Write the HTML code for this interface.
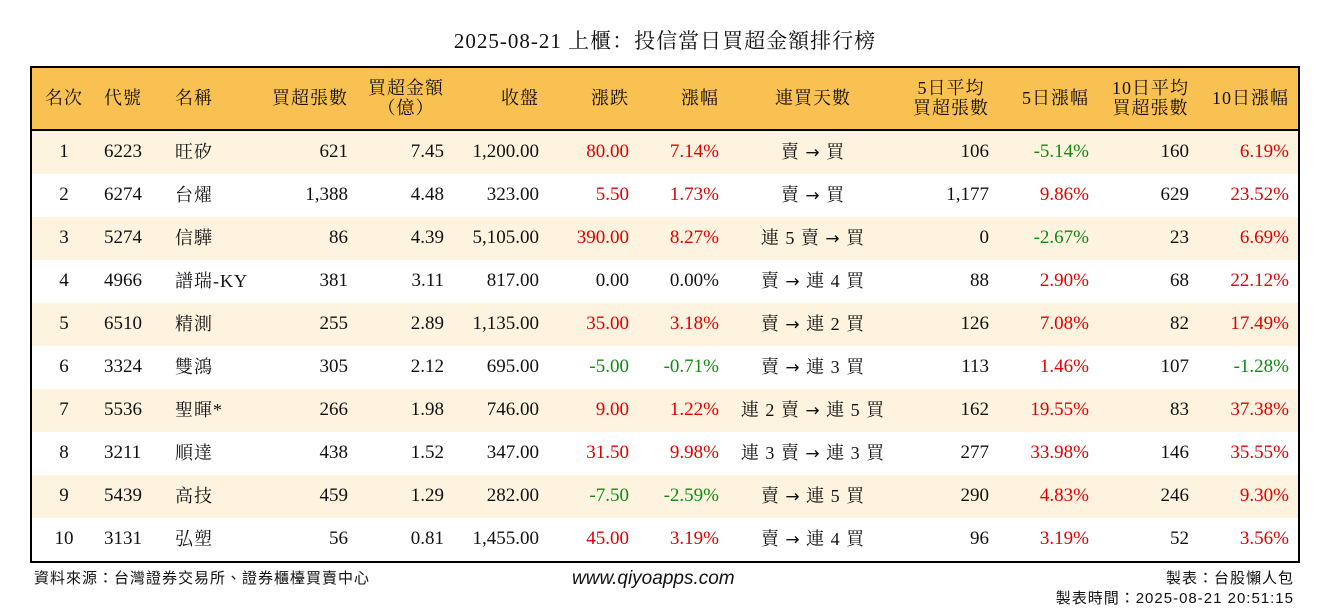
<!DOCTYPE html>
<html><head><meta charset="utf-8">
<style>
body{margin:0;width:1330px;height:612px;background:#fff;position:relative;overflow:hidden;font-family:"Liberation Serif","Noto Serif CJK SC","Noto Sans CJK TC",serif;color:#111}
#title{position:absolute;left:0;width:1330px;top:27px;text-align:center;font-size:21px;line-height:28px;letter-spacing:1px}
#tbl{position:absolute;left:30px;top:66px;width:1266px;height:493px;border:2px solid #000}
#hdr{position:absolute;left:0;top:0;width:1266px;height:61px;background:#f9c152;border-bottom:2px solid #000}
.c{position:absolute;white-space:nowrap;font-size:19px;line-height:24px}
.h{font-size:18px;line-height:20px;letter-spacing:1px}
.row{position:absolute;left:0;width:1266px;height:43px}
.r{color:#e00000}.g{color:#108a10}
.foot{position:absolute;font-size:15px;font-family:"Liberation Sans","Noto Sans CJK TC",sans-serif;letter-spacing:1px}
.arr{font-family:"DejaVu Sans",sans-serif;font-size:17px}
</style></head><body>
<div id="title">2025-08-21 上櫃：投信當日買超金額排行榜</div>
<div id="tbl"><div id="hdr"></div></div>
<div class="foot" style="left:34px;top:567px">資料來源：台灣證券交易所、證券櫃檯買賣中心</div>
<div class="foot" style="left:572px;top:568px;font-style:italic;font-size:19px;letter-spacing:0">www.qiyoapps.com</div>
<div class="foot" style="right:36px;top:567px">製表：台股懶人包</div>
<div class="foot" style="right:36px;top:587px">製表時間：2025-08-21 20:51:15</div>
<script>
const ranks=[1,2,3,4,5,6,7,8,9,10];
const codes=["6223","6274","5274","4966","6510","3324","5536","3211","5439","3131"];
const names=["旺矽","台燿","信驊","譜瑞-KY","精測","雙鴻","聖暉*","順達","高技","弘塑"];
const buyLots=[621,1388,86,381,255,305,266,438,459,56];
const buyAmt=[7.45,4.48,4.39,3.11,2.89,2.12,1.98,1.52,1.29,0.81];
const closes=[1200,323,5105,817,1135,695,746,347,282,1455];
const changes=[80,5.5,390,0,35,-5,9,31.5,-7.5,45];
const pcts=[7.14,1.73,8.27,0,3.18,-0.71,1.22,9.98,-2.59,3.19];
const streaks=["賣 → 買","賣 → 買","連 5 賣 → 買","賣 → 連 4 買","賣 → 連 2 買","賣 → 連 3 買","連 2 賣 → 連 5 買","連 3 賣 → 連 3 買","賣 → 連 5 買","賣 → 連 4 買"];
const avg5=[106,1177,0,88,126,113,162,277,290,96];
const pct5=[-5.14,9.86,-2.67,2.90,7.08,1.46,19.55,33.98,4.83,3.19];
const avg10=[160,629,23,68,82,107,83,146,246,52];
const pct10=[6.19,23.52,6.69,22.12,17.49,-1.28,37.38,35.55,9.30,3.56];
const headers=[["名次"],["代號"],["名稱"],["買超張數"],["買超金額","（億）"],["收盤"],["漲跌"],["漲幅"],["連買天數"],["5日平均","買超張數"],["5日漲幅"],["10日平均","買超張數"],["10日漲幅"]];
const cols=[["c",32],["l",72],["l",143],["r",316],["r",412],["r",507],["r",597],["r",687],["c",781],["r",957],["r",1057],["r",1157],["r",1257]];
const tbl=document.getElementById('tbl'),hdr=document.getElementById('hdr');
function place(el,col){const[t,x]=col;if(t==="l"){el.style.left=x+"px";}else if(t==="r"){el.style.right=(1266-x)+"px";el.style.textAlign="right";}else{el.style.left=(x-100)+"px";el.style.width="200px";el.style.textAlign="center";}}
headers.forEach((h,i)=>{const d=document.createElement('div');d.className='c h';


d.innerHTML=h.join('<br>');d.style.top=(h.length>1?10:20)+"px";place(d,cols[i]);if(h.length>1&&cols[i][0]==="r")d.style.textAlign="center";hdr.appendChild(d);});
const fmt=(v,d)=>v.toLocaleString('en-US',{minimumFractionDigits:d,maximumFractionDigits:d});
const cls=v=>v>0?'r':(v<0?'g':'');
ranks.forEach((rk,i)=>{const row=document.createElement('div');row.className='row';


row.style.top=(63+i*43)+"px";row.style.background=i%2===0?"#fdf3de":"#fff";
const vals=[[rk,''],[codes[i],''],[names[i],''],[fmt(buyLots[i],0),''],[fmt(buyAmt[i],2),''],[fmt(closes[i],2),''],[fmt(changes[i],2),cls(changes[i])],[fmt(pcts[i],2)+"%",cls(pcts[i])],[streaks[i],''],[fmt(avg5[i],0),''],[fmt(pct5[i],2)+"%",cls(pct5[i])],[fmt(avg10[i],0),''],[fmt(pct10[i],2)+"%",cls(pct10[i])]];
vals.forEach((v,j)=>{const d=document.createElement('div');d.className='c '+v[1];


d.style.top="9px";
if(j===8){d.innerHTML=v[0].replace('→','<span class="arr">→</span>');}else d.textContent=v[0];
if(j===2||j===8){d.style.fontSize="18px";d.style.letterSpacing="1px";}
place(d,cols[j]);row.appendChild(d);});
tbl.appendChild(row);});
</script>
</body></html>
